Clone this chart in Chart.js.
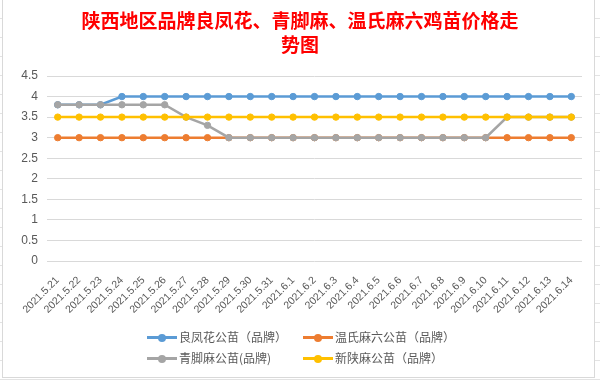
<!DOCTYPE html>
<html>
<head>
<meta charset="utf-8">
<script src="https://cdn.jsdelivr.net/npm/chart.js@4"></script>
<style>
    body { margin: 0; background: #fff; }
    #wrap {
        position: relative; width: 600px; height: 380px; overflow: hidden;
        background: repeating-linear-gradient(to bottom, #fff 0, #fff 18px, #e3e3e3 18px, #e3e3e3 19px);
    }
    #frame { position: absolute; left: 2px; top: -1px; width: 591px; height: 377px; border: 1px solid #d9d9d9; background: #fff; }
    canvas { position: absolute; left: 0; top: 0; }
    .item { position: absolute; font: 12px "Noto Sans CJK SC", sans-serif; color: #595959; height: 18px; line-height: 18px; white-space: nowrap; }
    .mark { display: inline-block; position: relative; width: 30px; height: 18px; vertical-align: top; margin-right: 2px; }
    .mark::before { content: ''; position: absolute; left: 0; right: 0; top: 8px; height: 3px; background: var(--c); }
    .mark::after { content: ''; position: absolute; left: 11px; top: 5.5px; width: 8px; height: 8px; border-radius: 50%; background: var(--c); }
</style>
</head>
<body>
<div id="wrap">
    <div id="frame"></div>
    <canvas id="chart" width="600" height="380"></canvas>
    <div id="legend"></div>
</div>
<script>
// Data
const dates = ['2021.5.21', '2021.5.22', '2021.5.23', '2021.5.24', '2021.5.25', '2021.5.26', '2021.5.27',
    '2021.5.28', '2021.5.29', '2021.5.30', '2021.5.31', '2021.6.1', '2021.6.2', '2021.6.3', '2021.6.4',
    '2021.6.5', '2021.6.6', '2021.6.7', '2021.6.8', '2021.6.9', '2021.6.10', '2021.6.11', '2021.6.12',
    '2021.6.13', '2021.6.14'];
const liangFengHua = [3.8, 3.8, 3.8, 4, 4, 4, 4, 4, 4, 4, 4, 4, 4, 4, 4, 4, 4, 4, 4, 4, 4, 4, 4, 4, 4];
const wenShiMaLiu = [3, 3, 3, 3, 3, 3, 3, 3, 3, 3, 3, 3, 3, 3, 3, 3, 3, 3, 3, 3, 3, 3, 3, 3, 3];
const qingJiaoMa = [3.8, 3.8, 3.8, 3.8, 3.8, 3.8, 3.5, 3.3, 3, 3, 3, 3, 3, 3, 3, 3, 3, 3, 3, 3, 3, 3.5, 3.5, 3.5, 3.5];
const xinShaanMa = [3.5, 3.5, 3.5, 3.5, 3.5, 3.5, 3.5, 3.5, 3.5, 3.5, 3.5, 3.5, 3.5, 3.5, 3.5, 3.5, 3.5, 3.5, 3.5, 3.5, 3.5, 3.5, 3.5, 3.5, 3.5];
const seriesNames = ['良凤花公苗（品牌）', '温氏麻六公苗（品牌）', '青脚麻公苗(品牌)', '新陕麻公苗（品牌）'];
const yTicks = [0, 0.5, 1, 1.5, 2, 2.5, 3, 3.5, 4, 4.5];
const titleLines = ['陕西地区品牌良凤花、青脚麻、温氏麻六鸡苗价格走', '势图'];

const colors = ['#5B9BD5', '#ED7D31', '#A5A5A5', '#FFC000'];
const values = [liangFengHua, wenShiMaLiu, qingJiaoMa, xinShaanMa];
const drawOrder = [4, 3, 2, 1]; // yellow on top, blue at the bottom

// Legend (two columns like Excel)
const legendEl = document.getElementById('legend');
const legendPos = [[147, 328], [303, 328], [147, 349], [303, 349]];
seriesNames.forEach((name, i) => {
    const div = document.createElement('div');
    div.className = 'item';
    div.style.left = legendPos[i][0] + 'px';
    div.style.top = legendPos[i][1] + 'px';
    div.innerHTML = `<span class="mark" style="--c:${colors[i]}"></span>${name}`;
    legendEl.appendChild(div);
});

const tickFont = { family: '"Liberation Sans", sans-serif', size: 10.5 };

new Chart(document.getElementById('chart'), {
    type: 'line',
    data: {
        labels: dates,
        datasets: seriesNames.map((name, i) => ({
            label: name,
            data: values[i],
            order: drawOrder[i],
            borderColor: colors[i],
            backgroundColor: colors[i],
            pointBackgroundColor: colors[i],
            pointBorderColor: colors[i],
            borderWidth: 2.5,
            pointRadius: 3.2,
            pointBorderWidth: 1,
            tension: 0
        }))
    },
    options: {
        responsive: false,
        animation: false,
        layout: { padding: { left: 18, right: 18, top: 0, bottom: 0 } },
        plugins: {
            legend: { display: false },
            tooltip: { enabled: false },
            title: {
                display: true,
                text: titleLines,
                color: '#FF0000',
                font: { family: '"Noto Sans CJK SC", sans-serif', size: 19, weight: 'bold', lineHeight: 24 / 19 },
                padding: { top: 9, bottom: 19 }
            }
        },
        scales: {
            x: {
                offset: true,
                grid: { display: false },
                border: { display: false },
                ticks: { autoSkip: false, minRotation: 45, maxRotation: 45, color: '#595959', font: tickFont, padding: 5 },
                afterFit: s => { s.height = 119; }
            },
            y: {
                min: 0,
                max: 4.5,
                afterBuildTicks: s => { s.ticks = yTicks.map(v => ({ value: v })); },
                grid: { color: '#d9d9d9', drawTicks: false },
                border: { display: false },
                ticks: {
                    color: '#595959',
                    font: { family: '"Liberation Sans", sans-serif', size: 12 },
                    padding: 9,
                    callback: v => String(v)
                },
                afterFit: s => { s.width = 29; }
            }
        }
    }
});
</script>
</body>
</html>
